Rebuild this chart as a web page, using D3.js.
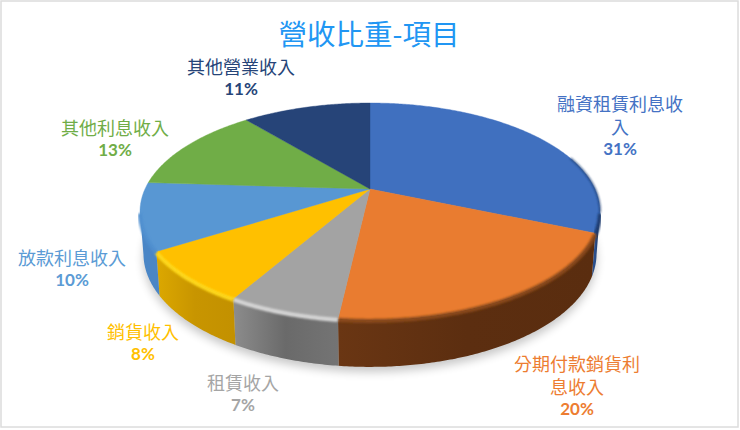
<!DOCTYPE html>
<html>
<head>
<meta charset="utf-8">
<script src="https://cdn.jsdelivr.net/npm/d3@7"></script>
<style>
  html, body { margin: 0; padding: 0; background: #fff; }
  svg { display: block; }
  text { font-family: 'Noto Sans CJK TC', sans-serif; text-anchor: middle; dominant-baseline: central; }
  .pct { font-family: Lato, sans-serif; font-weight: 700; font-size: 17px; }
</style>
</head>
<body>
<div id="chart"></div>
<script>
const titleText = '營收比重-項目'
const categories = ['融資租賃利息收入', '分期付款銷貨利息收入', '租賃收入', '銷貨收入', '放款利息收入', '其他利息收入', '其他營業收入']
// estimated from the slice edges, labels show them rounded
const shares = [31.4, 20.4, 6.5, 7.7, 10, 13, 11]

const topColors = ['#4070bf', '#e97c30', '#a3a3a3', '#ffc000', '#5897d3', '#70ad47', '#264478']
const labelColors = ['#4472c4', '#ed7d31', '#a5a5a5', '#ffc000', '#5b9bd5', '#70ad47', '#264478']
const wallColors = [
  ['#2a4f8c', '#15294d'],
  ['#6a3613', '#5c2e10', '#5a2d0f'],
  ['#8c8c8c', '#6a6a6a', '#747474'],
  ['#dca800', '#c89500', '#c39100'],
  ['#4a86c6', '#4a86c6'],
  ['#70ad47', '#70ad47'],
  ['#264478', '#264478'],
]
const rimColors = ['#1d3a6e', '#8a4a1a', '#d8d8d8', '#ffd91a', '#4f8fcf', '#70ad47', '#264478']
const labelCenters = [[620, 103], [577, 363], [243, 382], [143, 331], [72, 257], [115, 127], [241, 66]]

const width = 740
const height = 430
const wrapChars = 7
const lineGap = 23

// perspective of the tilted disc
const apexX = 370
const apexY = 189
const spreadX = 225
const spreadY = 103.8
const tilt = 0.207
const wallBase = 41
const wallGrow = 6
const wallFrom = (102.5 * Math.PI) / 180
const wallTo = (257.5 * Math.PI) / 180

const project = (angle, lower = false) => {
  const u = Math.sin(angle)
  const v = -Math.cos(angle)
  const d = 1 - tilt * v
  const shrink = lower ? 0.985 : 1
  return [
    apexX + (spreadX * shrink * u) / d,
    apexY + (spreadY * v) / d + (lower ? wallBase + wallGrow * v : 0),
  ]
}

const arcSteps = (a0, a1) => {
  const n = Math.max(2, Math.ceil(Math.abs(a1 - a0) / 0.01))
  return d3.range(n + 1).map(i => a0 + ((a1 - a0) * i) / n)
}

const svg = d3
  .select('#chart')
  .append('svg')
  .attr('width', width)
  .attr('height', height)
  .attr('viewBox', `0 0 ${width} ${height}`)

const defs = svg.append('defs')
defs.append('filter').attr('id', 'shadowBlur').attr('x', '-20%').attr('y', '-20%').attr('width', '140%').attr('height', '140%')
  .append('feGaussianBlur').attr('stdDeviation', 5)
defs.append('filter').attr('id', 'rimBlur').attr('x', '-10%').attr('y', '-30%').attr('width', '120%').attr('height', '160%')
  .append('feGaussianBlur').attr('stdDeviation', 1.3)

svg.append('rect')
  .attr('x', 1).attr('y', 1)
  .attr('width', width - 3).attr('height', height - 4)
  .attr('fill', '#fff').attr('stroke', '#dcdcdc').attr('stroke-width', 1.5)

svg.append('text')
  .attr('x', 369).attr('y', 32)
  .attr('font-size', 28.5)
  .attr('fill', '#2196f3')
  .text(titleText)

const line = d3.line()
const slices = d3.pie().sort(null).value(d => d)(shares)

// soft shadow under the disc
const chart = svg.append('g')
const outline = arcSteps(0, Math.PI * 2).map(a => {
  const p = project(a, true)
  return [p[0], p[1] + 5]
})
chart.append('path')
  .attr('d', line(outline) + 'Z')
  .attr('fill', '#000')
  .attr('opacity', 0.22)
  .attr('filter', 'url(#shadowBlur)')

const front = slices
  .map((s, i) => ({ i, from: Math.max(s.startAngle, wallFrom), to: Math.min(s.endAngle, wallTo) }))
  .filter(d => d.to > d.from)

front.forEach(d => {
  const pts = arcSteps(d.from, d.to)
  const upper = pts.map(a => project(a))
  const lower = pts.map(a => project(a, true)).reverse()
  const grad = defs.append('linearGradient')
    .attr('id', `wall${d.i}`)
    .attr('gradientUnits', 'userSpaceOnUse')
    .attr('x1', d3.min(upper, p => p[0])).attr('x2', d3.max(upper, p => p[0]))
    .attr('y1', 0).attr('y2', 0)
  const stops = wallColors[d.i]
  stops.forEach((c, k) => {
    grad.append('stop').attr('offset', k / (stops.length - 1)).attr('stop-color', c)
  })
  chart.append('path')
    .attr('d', line(upper.concat(lower)) + 'Z')
    .attr('fill', `url(#wall${d.i})`)
})

// top face
slices.forEach((s, i) => {
  const rim = arcSteps(s.startAngle, s.endAngle).map(a => project(a))
  chart.append('path')
    .attr('d', line([[apexX, apexY], ...rim]) + 'Z')
    .attr('fill', topColors[i])
    .attr('stroke', topColors[i])
    .attr('stroke-width', 0.4)
})

// bevel along the front rim
front.forEach(d => {
  const rim = arcSteps(d.from, d.to).map(a => {
    const p = project(a)
    return [p[0], p[1] + 1]
  })
  chart.append('path')
    .attr('d', line(rim))
    .attr('fill', 'none')
    .attr('stroke', rimColors[d.i])
    .attr('stroke-width', 4)
    .attr('filter', 'url(#rimBlur)')
})

// dark edge on the back right of the first slice
chart.append('path')
  .attr('d', line(arcSteps(1.25, wallFrom).map(a => project(a))))
  .attr('fill', 'none')
  .attr('stroke', '#1d3a6e')
  .attr('stroke-width', 1.5)
  .attr('filter', 'url(#rimBlur)')

const labels = svg.append('g')
categories.forEach((name, i) => {
  const parts = []
  for (let k = 0; k < name.length; k += wrapChars) parts.push(name.slice(k, k + wrapChars))
  const [cx, cy] = labelCenters[i]
  const label = labels.append('text')
    .attr('x', cx).attr('y', cy)
    .attr('font-size', 18)
    .attr('fill', labelColors[i])
  parts.forEach((t, k) => {
    label.append('tspan')
      .attr('x', cx)
      .attr('dy', k ? lineGap : 0)
      .text(t)
  })
  labels.append('text')
    .attr('class', 'pct')
    .attr('x', cx).attr('y', cy + parts.length * lineGap - 1)
    .attr('fill', labelColors[i])
    .text(`${Math.round(shares[i])}%`)
})
</script>
</body>
</html>
